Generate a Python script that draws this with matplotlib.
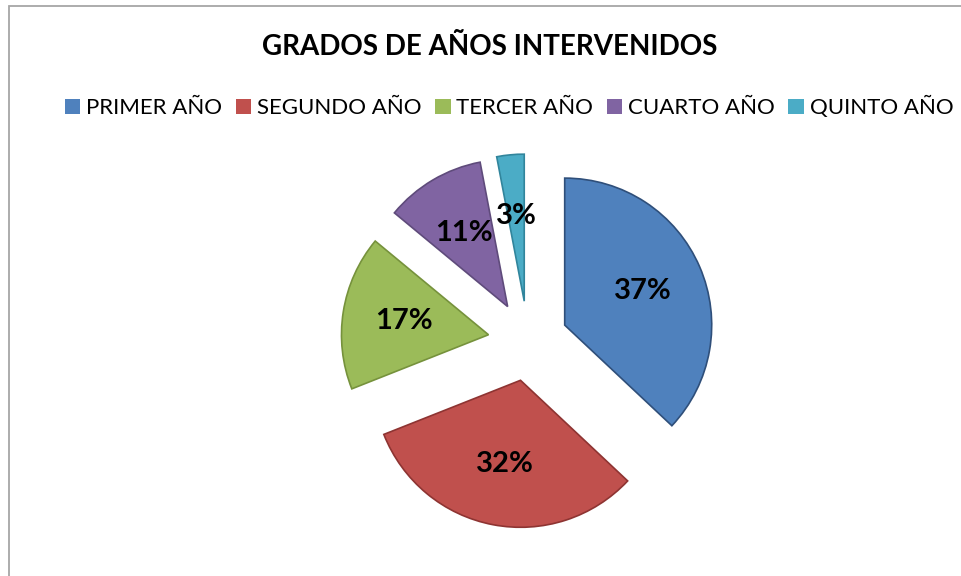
import matplotlib.pyplot as plt
from matplotlib.patches import Rectangle

# grados de años intervenidos (porcentajes)
categorias = ['PRIMER AÑO', 'SEGUNDO AÑO', 'TERCER AÑO', 'CUARTO AÑO', 'QUINTO AÑO']
porcentajes = [37, 32, 17, 11, 3]
colores = ['#4F81BD', '#C0504D', '#9BBB59', '#8064A2', '#4BACC6']
bordes = ['#2F4F7A', '#8E3432', '#76923C', '#5F4B7B', '#31859C']

plt.rcParams['font.family'] = ['Lato', 'DejaVu Sans']

fig = plt.figure(figsize=(9.61, 5.76), dpi=100)
ax = fig.add_axes([0, 0, 1, 1])
ax.set_xlim(0, 961)
ax.set_ylim(0, 576)
ax.set_aspect('equal')
ax.axis('off')

# explode is in data units (pixels here)
wedges, textos, pcts = ax.pie(
    porcentajes, colors=colores, startangle=90, counterclock=False,
    explode=[40] * len(porcentajes), radius=147, center=(528, 235),
    autopct='%1.0f%%', pctdistance=0.58,
    wedgeprops=dict(linewidth=1.2),
    textprops=dict(fontsize=21, fontweight='bold', color='black'))
for w, b in zip(wedges, bordes):
    w.set_edgecolor(b)

ax.set_xlim(0, 961)
ax.set_ylim(0, 576)

fig.text(490 / 961, 1 - 47 / 576, 'GRADOS DE AÑOS INTERVENIDOS',
         ha='center', va='center', fontsize=20, fontweight='bold')

leg = fig.legend(wedges, categorias, loc='center', ncol=5,
                 bbox_to_anchor=(509 / 961, 1 - 107 / 576), frameon=False,
                 fontsize=16, handlelength=0.7, handleheight=0.7,
                 handletextpad=0.25, columnspacing=0.62)
for h in leg.legend_handles:
    h.set_linewidth(0)

fig.patches.append(Rectangle((9 / 961, -0.1), 1.1, 1 - 6 / 576 + 0.1,
                             transform=fig.transFigure, fill=False,
                             edgecolor='#A6A6A6', linewidth=1.3))

fig.savefig('out.png', dpi=100)
